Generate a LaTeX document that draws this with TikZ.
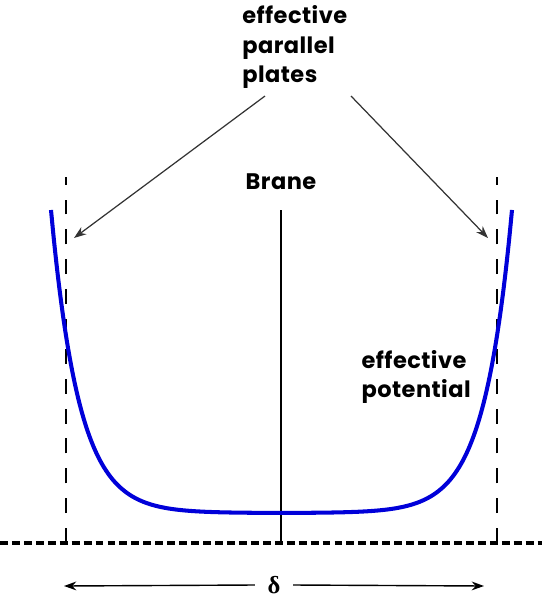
\documentclass[tikz,border=0pt]{standalone}
\usepackage{fontspec}
\newfontfamily\labelfont{Poppins}[LetterSpace=2]
\newfontfamily\symfont{Liberation Serif}
\usetikzlibrary{arrows.meta}

\begin{document}
\begin{tikzpicture}[x=0.02cm, y=-0.02cm,
    lbl/.style={font=\labelfont\bfseries\fontsize{12.8}{16.8}\selectfont, align=left, inner sep=0pt},
    sym/.style={font=\symfont\bfseries\fontsize{14}{14}\selectfont, inner xsep=7pt},
    plate/.style={line width=1.7pt, dash pattern=on 8.5pt off 8.5pt},
    pointer/.style={-{Stealth[length=7pt, width=5pt]}, line width=0.7pt, black!80}]
    \useasboundingbox (0,0) rectangle (542,599);
    % labels
    \node[lbl, anchor=west] (plates) at (242,47) {effective\\parallel\\plates};
    \node[lbl] (brane) at (281,182) {Brane};
    \node[lbl, anchor=east] (pot) at (471,377) {effective\\potential};
    \node[sym] (delta) at (274,585) {δ};
    % plates and axis
    \coordinate (floorL) at (0,543);
    \coordinate (floorR) at (542,543);
    \foreach \x in {66,497} {
        \draw[plate] (\x,543) -- (\x,177);
    }
    \draw[line width=1.8pt, dash pattern=on 4.5pt off 2.3pt] (floorL) -- (floorR);
    % brane
    \coordinate (braneTop) at (281,210);
    \draw[line width=1.2pt] (braneTop) -- (281,543);
    % potential
    \draw[blue!85!black, line width=2.3pt, line join=round]
        plot[domain=51:512, samples=160, smooth]
        (\x, {513 - 303*(exp(-(\x-51)/28) + exp(-(512-\x)/28))});
    % pointers to the plates
    \coordinate (tipL) at (74,238);
    \coordinate (tipR) at (488,238);
    \draw[pointer] (265,96) -- (tipL);
    \draw[pointer] (351,96) -- (tipR);
    % width
    \coordinate (endL) at (64,586);
    \coordinate (endR) at (484,586);
    \draw[pointer, line width=0.8pt, black] (delta.west) -- (endL);
    \draw[pointer, line width=0.8pt, black] (delta.east) -- (endR);
\end{tikzpicture}
\end{document}
